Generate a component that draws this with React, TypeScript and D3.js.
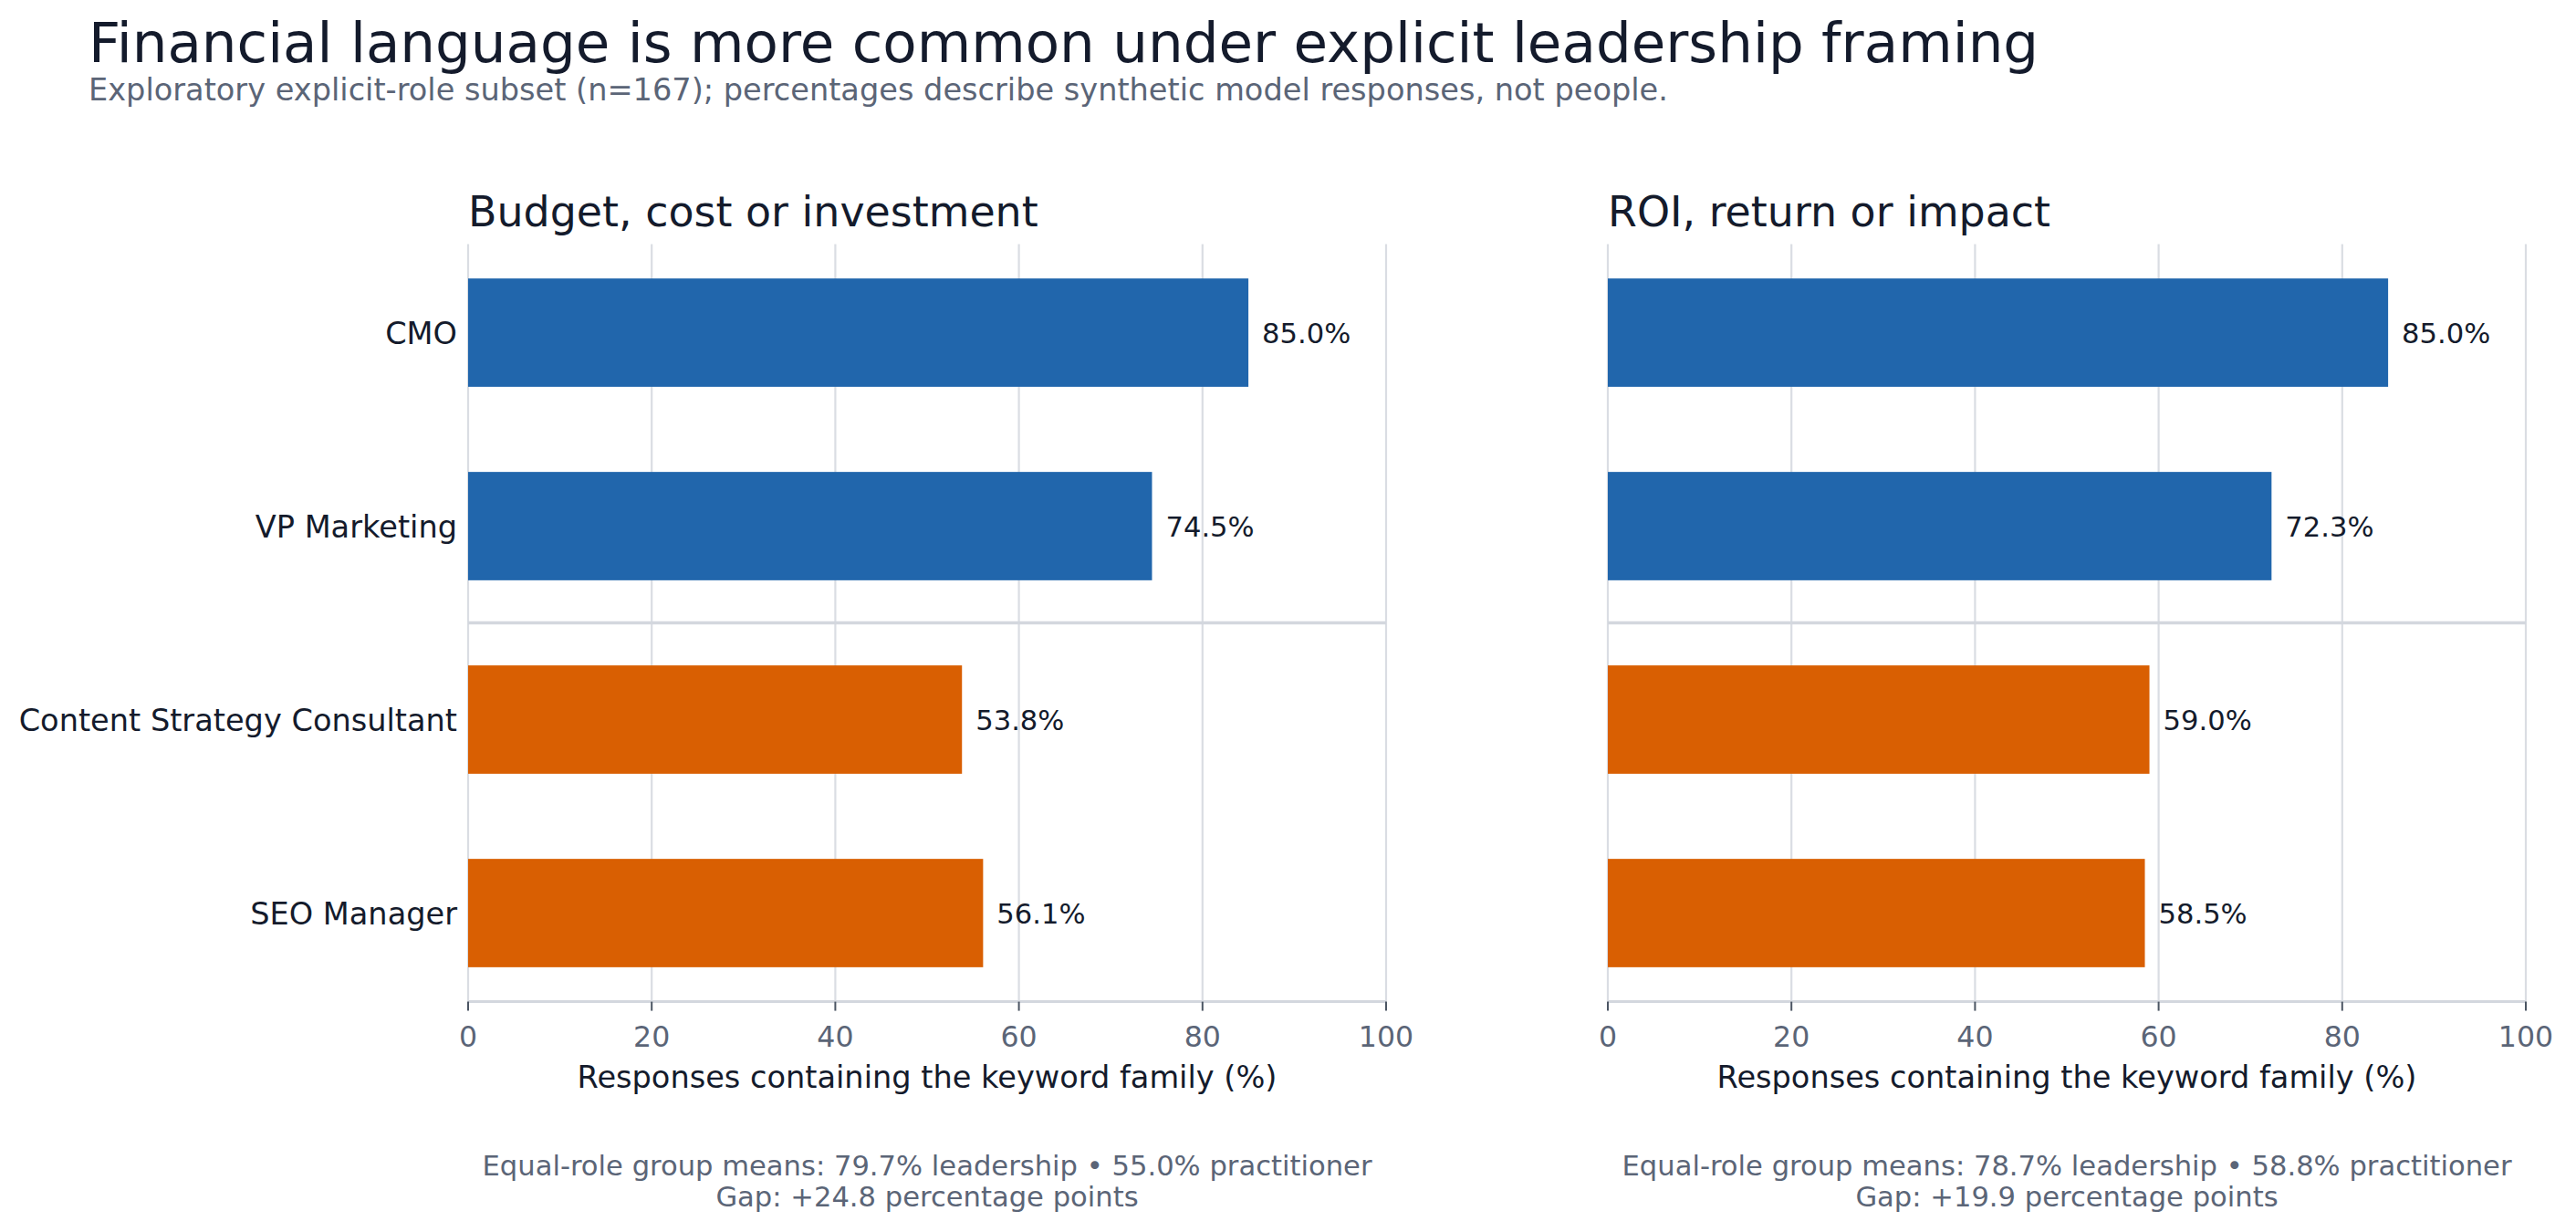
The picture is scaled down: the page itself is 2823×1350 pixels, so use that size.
import React from "react";
import * as d3 from "d3";

const roles = ["CMO", "VP Marketing", "Content Strategy Consultant", "SEO Manager"];
const roleGroups = ["leadership", "leadership", "practitioner", "practitioner"];
const budgetValues = [85.0, 74.5, 53.8, 56.1];
const roiValues = [85.0, 72.3, 59.0, 58.5];
const xTicks = [0, 20, 40, 60, 80, 100];
const panelTitles = ["Budget, cost or investment", "ROI, return or impact"];
const footLine1 = [
  "Equal-role group means: 79.7% leadership \u2022 55.0% practitioner",
  "Equal-role group means: 78.7% leadership \u2022 58.8% practitioner",
];
const footLine2 = ["Gap: +24.8 percentage points", "Gap: +19.9 percentage points"];
const titleText = "Financial language is more common under explicit leadership framing";
const subtitleText =
  "Exploratory explicit-role subset (n=167); percentages describe synthetic model responses, not people.";
const xLabelText = "Responses containing the keyword family (%)";

const W = 2823;
const H = 1350;
const FONT = "'DejaVu Sans', sans-serif";
const DARK = "#141b2c";
const GRAY = "#5b6577";
const GRID = "#dadde3";
const COLORS: Record<string, string> = { leadership: "#2166ac", practitioner: "#d95f02" };

const plotTop = 267.4;
const plotBottom = 1097.6;
const panelRanges: [number, number][] = [
  [513, 1519],
  [1762, 2768],
];

function Panel({ idx, values }: { idx: number; values: number[] }) {
  const x = d3.scaleLinear().domain([0, 100]).range(panelRanges[idx]);
  const y = d3.scaleLinear().domain([-0.458, 3.458]).range([plotTop, plotBottom]);
  const bh = y(0.28) - y(0);
  const cx = (panelRanges[idx][0] + panelRanges[idx][1]) / 2;
  return (
    <g>
      {xTicks.map((t) => (
        <line key={"g" + t} x1={x(t)} x2={x(t)} y1={plotTop} y2={plotBottom} stroke={GRID} strokeWidth={2.2} />
      ))}
      <line x1={x(0)} x2={x(100)} y1={y(1.5)} y2={y(1.5)} stroke="#d3d7de" strokeWidth={3.6} />
      {values.map((v, i) => (
        <rect
          key={"b" + i}
          x={x(0)}
          y={y(i) - bh}
          width={x(v) - x(0)}
          height={2 * bh}
          fill={COLORS[roleGroups[i]]}
        />
      ))}
      {values.map((v, i) => (
        <text
          key={"v" + i}
          x={x(v) + 15}
          y={y(i)}
          dy="0.36em"
          fontSize={30.6}
          fill={DARK}
          fontFamily={FONT}
        >
          {v.toFixed(1) + "%"}
        </text>
      ))}
      {idx === 0 &&
        roles.map((r, i) => (
          <text
            key={"r" + i}
            x={x(0) - 12}
            y={y(i)}
            dy="0.36em"
            textAnchor="end"
            fontSize={33.6}
            fill={DARK}
            fontFamily={FONT}
          >
            {r}
          </text>
        ))}
      <line x1={x(0)} x2={x(100)} y1={plotBottom} y2={plotBottom} stroke="#d3d7de" strokeWidth={3} />
      {xTicks.map((t) => (
        <g key={"t" + t}>
          <line x1={x(t)} x2={x(t)} y1={plotBottom} y2={plotBottom + 10} stroke="#4b5563" strokeWidth={2} />
          <text
            x={x(t)}
            y={1147}
            textAnchor="middle"
            fontSize={31.6}
            fill={GRAY}
            fontFamily={FONT}
          >
            {t}
          </text>
        </g>
      ))}
      <text x={cx} y={1192} textAnchor="middle" fontSize={33.6} fill={DARK} fontFamily={FONT}>
        {xLabelText}
      </text>
      <text x={panelRanges[idx][0]} y={248} fontSize={45.9} fill={DARK} fontFamily={FONT}>
        {panelTitles[idx]}
      </text>
      <text x={cx} y={1288} textAnchor="middle" fontSize={30.6} fill={GRAY} fontFamily={FONT}>
        {footLine1[idx]}
      </text>
      <text x={cx} y={1322} textAnchor="middle" fontSize={30.6} fill={GRAY} fontFamily={FONT}>
        {footLine2[idx]}
      </text>
    </g>
  );
}

export default function App() {
  return (
    <svg
      width={W}
      height={H}
      viewBox={`0 0 ${W} ${H}`}
      style={{ position: "absolute", left: 0, top: 0, background: "#ffffff" }}
    >
      <rect x={0} y={0} width={W} height={H} fill="#ffffff" />
      <text x={97} y={68} fontSize={61.1} fill={DARK} fontFamily={FONT}>
        {titleText}
      </text>
      <text x={97} y={110} fontSize={33.6} fill={GRAY} fontFamily={FONT}>
        {subtitleText}
      </text>
      <Panel idx={0} values={budgetValues} />
      <Panel idx={1} values={roiValues} />
    </svg>
  );
}
